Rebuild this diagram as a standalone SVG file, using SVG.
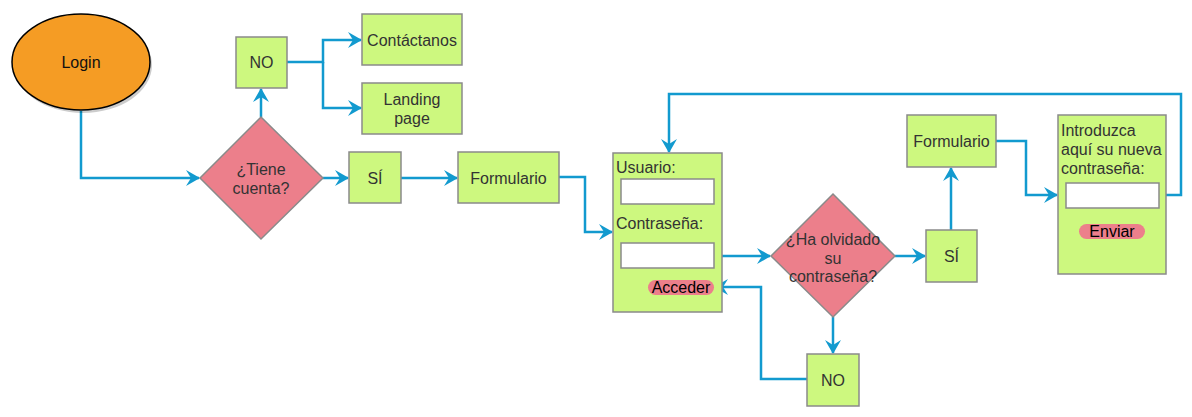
<svg xmlns="http://www.w3.org/2000/svg" width="1192" height="417" viewBox="0 0 1192 417">
<style>
.box{fill:#CDF87F;stroke:#8a8a8a;stroke-width:1.5}
.dia{fill:#EC7F8B;stroke:#8a8a8a;stroke-width:1.5}
.inp{fill:#ffffff;stroke:#8a8a8a;stroke-width:1.5}
.btn{fill:#EC7F8B;stroke:none}
.t{font-family:"Liberation Sans",Arial,sans-serif;font-size:16px;fill:#333333}
.c{text-anchor:middle}
.b{fill:#000000}
.con{fill:none;stroke:#129ACF;stroke-width:2.5}
</style>
<defs>
<marker id="arr" viewBox="0 0 14 16" refX="13" refY="8" markerWidth="14" markerHeight="16" markerUnits="userSpaceOnUse" orient="auto">
<path d="M0,0 L14,8 L0,16 L5,8 Z" fill="#129ACF"/>
</marker>
</defs>
<g id="connectors">
<path class="con" d="M81,111 V178 H199" marker-end="url(#arr)"/>
<path class="con" d="M261,117 V89" marker-end="url(#arr)"/>
<path class="con" d="M287,62 H323 V40 H361" marker-end="url(#arr)"/>
<path class="con" d="M323,62 V108 H361" marker-end="url(#arr)"/>
<path class="con" d="M323,178 H348" marker-end="url(#arr)"/>
<path class="con" d="M401,178 H457" marker-end="url(#arr)"/>
<path class="con" d="M559,177 H585 V232 H612" marker-end="url(#arr)"/>
<path class="con" d="M714,256 H770" marker-end="url(#arr)"/>
<path class="con" d="M833,317 V353" marker-end="url(#arr)"/>
<path class="con" d="M807,379 H761 V287 H715" marker-end="url(#arr)"/>
<path class="con" d="M895,256 H925" marker-end="url(#arr)"/>
<path class="con" d="M951,230 V168" marker-end="url(#arr)"/>
<path class="con" d="M996,141 H1026 V195 H1057" marker-end="url(#arr)"/>
<path class="con" d="M1159,195 H1181 V94 H669 V152" marker-end="url(#arr)"/>
</g>
<g id="login">
<ellipse cx="83" cy="65" rx="69" ry="48" fill="#000000" opacity="0.2"/>
<ellipse cx="81" cy="62" rx="69" ry="48" fill="#F59C24" stroke="#000000" stroke-width="1.5"/>
<text class="t c b" x="81" y="68" style="fill:#111">Login</text>
</g>
<g id="tiene-cuenta">
<polygon class="dia" points="261,117 323,178 261,239 200,178"/>
<text class="t c" x="261" y="175">¿Tiene</text>
<text class="t c" x="261" y="194">cuenta?</text>
</g>
<g id="no1">
<rect class="box" x="236" y="37" width="51" height="51"/>
<text class="t c" x="261.5" y="68">NO</text>
</g>
<g id="contactanos">
<rect class="box" x="362" y="14" width="100" height="51"/>
<text class="t c" x="412" y="46">Contáctanos</text>
</g>
<g id="landing">
<rect class="box" x="362" y="83" width="100" height="51"/>
<text class="t c" x="412" y="105">Landing</text>
<text class="t c" x="412" y="124">page</text>
</g>
<g id="si1">
<rect class="box" x="349" y="152" width="52" height="51"/>
<text class="t c" x="375" y="184">SÍ</text>
</g>
<g id="formulario1">
<rect class="box" x="458" y="152" width="101" height="51"/>
<text class="t c" x="508.5" y="184">Formulario</text>
</g>
<g id="login-form">
<rect class="box" x="613" y="153" width="109" height="159"/>
<text class="t" x="616" y="173">Usuario:</text>
<rect class="inp" x="621" y="179" width="93" height="25"/>
<text class="t" x="616" y="229">Contraseña:</text>
<rect class="inp" x="621" y="243" width="93" height="25"/>
<rect class="btn" x="648" y="280" width="66" height="15" rx="7.5"/>
<text class="t c b" x="681" y="293">Acceder</text>
</g>
<g id="olvidado">
<polygon class="dia" points="833,194 895,256 833,317 771,256"/>
<text class="t c" x="833" y="245">¿Ha olvidado</text>
<text class="t c" x="833" y="264">su</text>
<text class="t c" x="833" y="282">contraseña?</text>
</g>
<g id="no2">
<rect class="box" x="807" y="354" width="52" height="52"/>
<text class="t c" x="833" y="386">NO</text>
</g>
<g id="si2">
<rect class="box" x="926" y="230" width="51" height="52"/>
<text class="t c" x="951.5" y="262">SÍ</text>
</g>
<g id="formulario2">
<rect class="box" x="907" y="115" width="89" height="52"/>
<text class="t c" x="951.5" y="147">Formulario</text>
</g>
<g id="nueva-form">
<rect class="box" x="1058" y="115" width="108" height="159"/>
<text class="t" x="1061" y="136">Introduzca</text>
<text class="t" x="1061" y="155">aquí su nueva</text>
<text class="t" x="1061" y="174">contraseña:</text>
<rect class="inp" x="1066" y="183" width="93" height="25"/>
<rect class="btn" x="1079" y="224" width="66" height="15" rx="7.5"/>
<text class="t c b" x="1112" y="237">Enviar</text>
</g>
</svg>
